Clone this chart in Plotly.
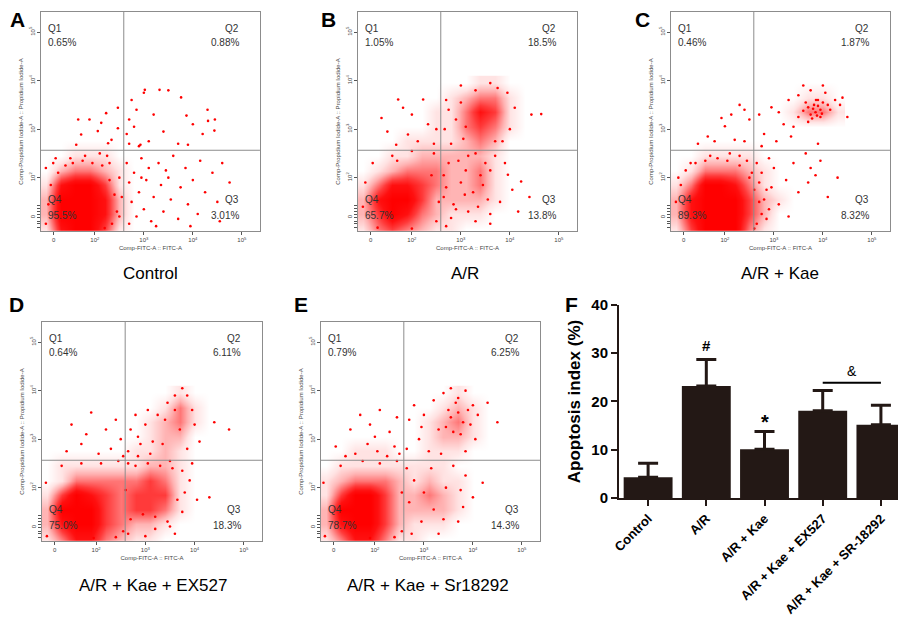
import plotly.graph_objects as go

# ---- flow cytometry panels (positions in display decades: 2 = 10^2, 3 = 10^3 ...) ----
quad_x = 2.59
quad_y = 2.565

# cell centres of the event-density grid (same for every panel)
grid_x = [1.0, 1.3, 1.6, 1.9, 2.2, 2.5, 2.8, 3.1, 3.4, 3.7, 4.0, 4.3]
grid_y = [0.95, 1.25, 1.55, 1.85, 2.15, 2.45, 2.75, 3.05, 3.35, 3.65, 3.95]

# A: Control
A_quads = ["0.65%", "0.88%", "3.01%", "95.5%"]
A_density = [
    [1, 5, 6, 6, 4, 1, 0, 0, 0, 0, 0, 0],
    [2, 6, 6, 6, 5, 2, 0, 0, 0, 0, 0, 0],
    [2, 6, 6, 6, 5, 2, 0, 0, 0, 0, 0, 0],
    [1, 5, 6, 6, 4, 1, 0, 0, 0, 0, 0, 0],
    [0, 2, 3, 3, 2, 1, 0, 0, 0, 0, 0, 0],
    [0, 0, 1, 1, 1, 0, 0, 0, 0, 0, 0, 0],
    [0, 0, 0, 0, 0, 0, 0, 0, 0, 0, 0, 0],
    [0, 0, 0, 0, 0, 0, 0, 0, 0, 0, 0, 0],
    [0, 0, 0, 0, 0, 0, 0, 0, 0, 0, 0, 0],
    [0, 0, 0, 0, 0, 0, 0, 0, 0, 0, 0, 0],
    [0, 0, 0, 0, 0, 0, 0, 0, 0, 0, 0, 0],
]
A_dot_x = [2.65, 2.7, 2.75, 2.8, 2.85, 2.9, 2.95, 3.0, 3.05, 3.1, 3.15, 3.2, 3.3, 3.35, 3.4, 3.5,
           3.55, 3.6, 3.7, 3.75, 3.85, 3.9, 4.0, 4.1, 4.15, 4.25, 4.4, 4.5, 4.6, 4.75, 2.7, 3.25,
           3.95, 4.55, 2.95, 3.45,
           2.65, 2.7, 2.75, 2.8, 2.85, 3.0, 3.1, 3.2, 3.5, 3.7, 4.0, 4.2, 4.3, 4.45, 2.7, 3.4, 2.9,
           3.02, 3.32, 3.76, 3.87, 4.31, 4.44, 2.93, 3.9,
           1.66, 2.23, 2.47, 1.89, 1.72, 2.06, 2.34, 1.62, 2.47, 2.27, 2.13,
           1.5, 1.8, 2.1, 2.3, 2.5, 2.55, 2.5, 1.2, 1.0, 2.25,
           1.05, 1.1, 1.25, 1.4, 1.55, 1.75, 1.95, 2.15, 2.3, 2.4, 2.45, 2.35, 2.2, 1.0, 1.15]
A_dot_y = [2.3, 1.9, 1.5, 2.1, 1.2, 1.7, 2.4, 1.35, 1.95, 2.2, 1.1, 1.6, 2.3, 1.85, 1.3, 2.0,
           1.55, 2.45, 1.15, 1.8, 2.2, 1.45, 1.95, 1.25, 2.35, 1.7, 2.1, 1.5, 2.3, 1.9, 1.05, 1.0,
           1.0, 1.1, 2.0, 2.15,
           2.9, 3.2, 3.6, 3.05, 3.4, 3.75, 2.75, 3.3, 3.8, 2.7, 3.1, 2.9, 3.4, 3.2, 2.7, 2.95, 2.65,
           3.81, 3.81, 3.655, 3.28, 3.17, 2.97, 2.68, 2.68,
           3.2, 3.33, 3.44, 3.2, 2.89, 2.96, 2.78, 2.68, 3.02, 2.71, 3.13,
           2.4, 2.45, 2.5, 2.3, 2.0, 1.6, 1.2, 2.4, 2.2, 2.45,
           1.45, 1.85, 2.1, 2.25, 2.3, 2.35, 2.3, 2.25, 1.95, 1.65, 1.3, 1.05, 0.96, 1.05, 2.3]

# B: A/R
B_quads = ["1.05%", "18.5%", "13.8%", "65.7%"]
B_density = [
    [1, 3, 4, 3, 2, 1, 1, 0, 0, 0, 0, 0],
    [2, 4, 6, 5, 3, 2, 1, 1, 1, 0, 0, 0],
    [2, 5, 6, 6, 4, 2, 2, 2, 2, 1, 0, 0],
    [1, 3, 5, 5, 4, 3, 2, 2, 3, 1, 0, 0],
    [0, 1, 2, 3, 3, 3, 2, 2, 3, 1, 0, 0],
    [0, 0, 1, 1, 2, 2, 2, 2, 2, 1, 0, 0],
    [0, 0, 0, 1, 1, 1, 1, 2, 3, 2, 0, 0],
    [0, 0, 0, 0, 0, 1, 1, 3, 4, 3, 1, 0],
    [0, 0, 0, 0, 0, 1, 1, 3, 5, 4, 1, 0],
    [0, 0, 0, 0, 0, 0, 1, 2, 3, 3, 1, 0],
    [0, 0, 0, 0, 0, 0, 0, 0, 1, 1, 0, 0],
]
B_dot_x = [1.72, 2.23, 1.82, 1.38, 1.68, 2.12, 2.33, 1.92, 2.45, 2.0, 1.5, 2.5,
           2.67, 2.75, 2.8, 2.9, 3.0, 3.05, 3.1, 3.6, 3.75, 3.95, 4.1, 4.44, 4.64, 4.0, 3.85, 3.3,
           2.7, 3.0,
           4.17, 4.23, 3.96, 2.8, 3.08, 2.7, 3.3, 3.6, 3.8, 3.9, 4.05, 2.65, 2.95, 3.7, 3.35, 4.4,
           3.6, 3.15,
           1.0, 1.05, 1.2, 1.6, 2.0, 2.45, 2.5, 2.55, 2.0, 1.3, 2.4, 1.7,
           2.65, 2.75, 2.85, 3.0, 3.1, 3.25, 3.4, 3.5, 3.55, 3.45, 3.3, 3.15, 2.9, 2.7, 3.6, 3.7]
B_dot_y = [3.61, 3.61, 3.44, 3.23, 2.68, 2.75, 3.1, 2.89, 2.7, 3.3, 2.95, 3.0,
           3.0, 3.4, 2.7, 3.2, 3.55, 2.8, 3.05, 3.95, 3.85, 3.75, 3.44, 3.3, 3.31, 3.0, 2.75, 3.8,
           3.6, 3.9,
           1.3, 1.92, 2.06, 1.17, 1.65, 1.0, 1.1, 1.25, 1.5, 2.3, 1.75, 2.05, 2.35, 2.45, 1.4, 1.6,
           1.05, 1.3,
           1.4, 1.9, 2.3, 2.45, 2.55, 2.5, 1.1, 1.5, 0.95, 0.97, 2.05, 2.35,
           1.6, 2.3, 1.45, 1.9, 2.15, 1.7, 2.05, 2.3, 1.55, 1.85, 2.5, 2.45, 1.35, 1.8, 2.15, 2.75]

# C: A/R + Kae
C_quads = ["0.46%", "1.87%", "8.32%", "89.3%"]
C_density = [
    [1, 4, 6, 6, 6, 3, 1, 0, 0, 0, 0, 0],
    [2, 5, 6, 6, 6, 4, 2, 0, 0, 0, 0, 0],
    [2, 5, 6, 6, 6, 4, 2, 1, 0, 0, 0, 0],
    [1, 3, 6, 6, 5, 3, 1, 0, 0, 0, 0, 0],
    [0, 1, 3, 3, 3, 2, 1, 0, 0, 0, 0, 0],
    [0, 0, 1, 1, 1, 1, 0, 0, 0, 0, 0, 0],
    [0, 0, 0, 0, 0, 0, 0, 0, 0, 0, 0, 0],
    [0, 0, 0, 0, 0, 0, 0, 0, 0, 0, 0, 0],
    [0, 0, 0, 0, 0, 0, 0, 0, 1, 3, 3, 1],
    [0, 0, 0, 0, 0, 0, 0, 0, 0, 1, 1, 0],
    [0, 0, 0, 0, 0, 0, 0, 0, 0, 0, 0, 0],
]
C_dot_x = [1.93, 2.13, 2.4, 1.65, 1.79, 2.0, 2.2, 2.4, 2.5, 1.45, 2.3,
           2.7, 2.8, 2.95, 3.05, 3.2, 3.3, 3.35, 3.5, 3.5, 3.65, 3.7, 3.75, 3.9, 3.95, 4.05, 4.15,
           4.25, 4.35, 4.5, 4.4, 3.6, 4.0, 2.75, 3.1, 3.4, 3.9,
           3.8, 3.85, 3.9, 3.95, 3.75, 3.82, 3.88, 4.0, 3.7, 3.78, 4.1, 3.6, 3.98, 3.86,
           2.65, 2.7, 2.75, 2.8, 2.9, 2.95, 3.0, 3.1, 3.25, 3.4, 3.65, 3.75, 3.85, 3.95, 3.7, 3.5,
           4.1, 3.3, 2.85, 4.3,
           1.0, 1.05, 1.3, 1.7, 2.1, 2.45, 2.55, 2.85, 2.9, 2.6, 2.3,
           1.1, 1.2, 1.4, 1.6, 1.85, 2.05, 2.3, 2.5, 2.6, 2.7, 2.75, 2.65]
C_dot_y = [3.23, 3.3, 3.4, 2.85, 2.75, 3.06, 2.78, 2.75, 3.2, 2.7, 3.5,
           3.3, 2.9, 3.45, 2.75, 3.1, 3.6, 2.85, 3.25, 3.7, 3.55, 3.15, 3.8, 3.6, 3.25, 3.75, 3.4,
           3.6, 3.5, 3.25, 3.65, 3.9, 3.9, 2.65, 3.35, 3.05, 2.7,
           3.42, 3.35, 3.48, 3.4, 3.3, 3.5, 3.28, 3.55, 3.45, 3.22, 3.5, 3.38, 3.32, 3.6,
           2.3, 1.9, 2.1, 1.55, 2.4, 1.8, 2.2, 1.45, 1.95, 2.3, 2.5, 2.2, 2.05, 2.35, 1.9, 1.7,
           1.6, 1.2, 1.15, 2.0,
           1.5, 2.0, 2.3, 2.45, 2.5, 2.35, 2.1, 1.75, 1.35, 0.95, 2.45,
           1.85, 2.15, 2.3, 2.35, 2.4, 2.35, 2.25, 2.0, 1.75, 1.5, 1.25, 1.05]

# D: A/R + Kae + EX527
D_quads = ["0.64%", "6.11%", "18.3%", "75.0%"]
D_density = [
    [1, 3, 5, 5, 3, 2, 1, 1, 0, 0, 0, 0],
    [2, 5, 6, 6, 4, 3, 2, 2, 1, 0, 0, 0],
    [2, 6, 6, 6, 4, 3, 4, 4, 3, 1, 0, 0],
    [1, 4, 6, 5, 4, 3, 4, 4, 4, 1, 0, 0],
    [0, 1, 3, 3, 3, 3, 3, 4, 3, 1, 0, 0],
    [0, 1, 1, 1, 1, 1, 1, 2, 2, 1, 0, 0],
    [0, 0, 0, 0, 0, 0, 1, 1, 2, 1, 0, 0],
    [0, 0, 0, 0, 0, 0, 0, 1, 2, 2, 0, 0],
    [0, 0, 0, 0, 0, 0, 0, 1, 2, 3, 1, 0],
    [0, 0, 0, 0, 0, 0, 0, 0, 1, 3, 1, 0],
    [0, 0, 0, 0, 0, 0, 0, 0, 0, 1, 0, 0],
]
D_dot_x = [1.5, 1.9, 2.2, 2.4, 1.7, 2.05, 2.3, 1.4, 2.5, 1.8, 2.55,
           2.65, 2.7, 2.8, 2.9, 3.0, 3.05, 3.1, 3.25, 3.45, 3.6, 3.75, 3.85, 3.95, 4.0, 4.4, 4.7,
           4.1, 3.85, 3.35, 2.85,
           2.65, 3.0, 3.5, 3.75, 3.8, 3.75, 3.9, 4.05, 4.3, 3.6, 3.2, 2.65, 3.95,
           1.0, 0.98, 1.3, 1.7, 2.1, 2.45, 2.55, 2.4, 1.95,
           2.6, 2.7, 2.8, 2.95, 3.05, 3.2, 3.3, 3.45, 3.55, 3.65, 3.4, 3.15, 2.85, 3.6, 3.7, 3.5]
D_dot_y = [3.3, 3.55, 3.2, 3.4, 2.9, 2.7, 2.8, 2.75, 3.0, 3.1, 2.65,
           2.75, 3.2, 3.5, 2.9, 3.3, 3.6, 2.7, 3.5, 3.75, 3.9, 4.05, 3.9, 3.6, 3.3, 3.35, 3.2,
           2.95, 2.8, 2.9, 2.65,
           1.05, 1.0, 1.2, 1.5, 1.9, 2.35, 2.15, 1.75, 1.8, 1.05, 1.15, 2.5, 2.5,
           1.0, 2.1, 2.45, 2.5, 2.5, 2.55, 1.1, 0.98, 0.96,
           1.95, 1.35, 2.45, 1.45, 2.5, 1.4, 2.45, 1.3, 2.4, 1.75, 3.4, 2.95, 3.05, 3.6, 3.2, 2.55]

# E: A/R + Kae + Sr18292
E_quads = ["0.79%", "6.25%", "14.3%", "78.7%"]
E_density = [
    [1, 3, 5, 5, 3, 1, 1, 0, 0, 0, 0, 0],
    [2, 5, 6, 6, 4, 2, 1, 1, 1, 0, 0, 0],
    [2, 6, 6, 6, 4, 2, 2, 2, 2, 1, 0, 0],
    [1, 4, 6, 6, 4, 2, 2, 3, 2, 1, 0, 0],
    [1, 2, 3, 3, 3, 2, 1, 2, 1, 1, 0, 0],
    [0, 1, 1, 1, 1, 1, 1, 1, 1, 0, 0, 0],
    [0, 0, 1, 1, 1, 0, 0, 1, 1, 1, 0, 0],
    [0, 0, 0, 0, 0, 0, 0, 1, 2, 2, 1, 0],
    [0, 0, 0, 0, 0, 0, 0, 1, 2, 3, 1, 0],
    [0, 0, 0, 0, 0, 0, 0, 0, 1, 2, 1, 0],
    [0, 0, 0, 0, 0, 0, 0, 0, 0, 1, 0, 0],
]
E_dot_x = [1.2, 1.5, 1.7, 1.9, 2.1, 2.3, 2.45, 1.6, 1.85, 2.05, 2.25, 2.4, 2.5, 1.4, 2.0,
           2.65, 2.7, 2.8, 2.9, 3.0, 3.1, 3.2, 3.3, 3.4, 3.55, 3.7, 3.85, 4.0, 4.1, 4.3, 4.5,
           4.05, 3.85, 3.35, 2.95,
           2.65, 2.7, 2.8, 2.95, 3.0, 3.15, 3.2, 3.4, 3.45, 3.6, 3.7, 3.75, 3.85, 3.8, 4.0, 4.2,
           3.3, 2.75,
           0.98, 0.95, 1.3, 1.75, 2.1, 2.45, 2.55, 2.4, 1.9, 2.55,
           3.45, 3.55, 3.6, 3.7, 3.8, 3.9, 3.65, 3.5, 3.75, 3.95]
E_dot_y = [2.85, 3.2, 3.5, 3.3, 3.6, 3.15, 3.45, 2.7, 2.9, 2.75, 2.65, 2.85, 2.7, 2.65, 3.05,
           2.8, 3.4, 3.7, 3.0, 3.5, 2.75, 3.8, 3.2, 3.95, 4.05, 3.85, 4.0, 3.7, 3.5, 3.75, 3.35,
           3.0, 2.75, 2.7, 3.25,
           2.4, 1.7, 2.15, 1.3, 1.9, 2.4, 1.55, 1.35, 2.0, 2.45, 1.3, 1.95, 2.25, 1.6, 1.8, 2.1,
           1.05, 1.05,
           1.0, 2.1, 2.45, 2.55, 2.5, 2.55, 1.1, 0.98, 0.96, 1.9,
           3.25, 3.45, 3.15, 3.55, 3.35, 3.6, 3.75, 3.6, 3.1, 3.3]

panel_titles = ["Control", "A/R", "A/R + Kae", "A/R + Kae + EX527", "A/R + Kae + Sr18292"]
fl_tick_vals = [1.16, 2, 3, 4, 5]
pi_tick_vals = [1.18, 2, 3, 4, 5]
log_tick_text = ["0", "10<sup>2</sup>", "10<sup>3</sup>", "10<sup>4</sup>", "10<sup>5</sup>"]

# ---- F: bar chart ----
groups = ["Control", "A/R", "A/R + Kae", "A/R + Kae + EX527", "A/R + Kae + SR-18292"]
apoptosis = [4.3, 23.2, 10.1, 18.1, 15.2]
apoptosis_sd = [2.9, 5.5, 3.7, 4.2, 4.0]

RED = "#ff0000"
GRAY = "#8c8c8c"
FONT = "Liberation Sans, Arial, sans-serif"
density_scale = [[0, "#ffffff"], [1 / 6, "#ffe3e3"], [2 / 6, "#ffb4b4"],
                 [3 / 6, "#ff7676"], [4 / 6, "#ff3a3a"], [5 / 6, "#ff1010"], [1, "#ff0000"]]

# axis domains (paper fractions)
domains = [
    ([0.0364, 0.2781], [0.6397, 0.9935]),
    ([0.3863, 0.6280], [0.6397, 0.9935]),
    ([0.7318, 0.9735], [0.6397, 0.9935]),
    ([0.0375, 0.2804], [0.1389, 0.4927]),
    ([0.3455, 0.5872], [0.1389, 0.4927]),
]

panels = [
    (A_density, A_dot_x, A_dot_y, A_quads),
    (B_density, B_dot_x, B_dot_y, B_quads),
    (C_density, C_dot_x, C_dot_y, C_quads),
    (D_density, D_dot_x, D_dot_y, D_quads),
    (E_density, E_dot_x, E_dot_y, E_quads),
]

fig = go.Figure()
annotations = []
shapes = []
layout_axes = {}

for i, (dens, dx, dy, quads) in enumerate(panels):
    n = "" if i == 0 else str(i + 1)
    xa, ya = "x" + n, "y" + n
    fig.add_trace(go.Heatmap(x=grid_x, y=grid_y, z=dens, xaxis=xa, yaxis=ya, zmin=0, zmax=6,
                             colorscale=density_scale, zsmooth="best", showscale=False,
                             hoverinfo="skip"))
    fig.add_trace(go.Scatter(x=dx, y=dy, mode="markers", xaxis=xa, yaxis=ya,
                             marker=dict(size=2.6, color=RED, line=dict(width=0)),
                             hoverinfo="skip", showlegend=False))

    xd, yd = domains[i]
    layout_axes["xaxis" + n] = dict(
        domain=xd, anchor=ya, range=[0.9, 5.37], showgrid=False, zeroline=False,
        showline=True, mirror=True, linecolor=GRAY, linewidth=1, automargin=False,
        tickmode="array", tickvals=fl_tick_vals, ticktext=log_tick_text,
        ticks="outside", ticklen=3, tickcolor="#555", tickfont=dict(size=6, color="#444"),
        title=dict(text="Comp-FITC-A :: FITC-A", font=dict(size=6, color="#444"), standoff=3),
    )
    layout_axes["yaxis" + n] = dict(
        domain=yd, anchor=xa, range=[0.9, 5.415], showgrid=False, zeroline=False,
        showline=True, mirror=True, linecolor=GRAY, linewidth=1, automargin=False,
        tickmode="array", tickvals=pi_tick_vals, ticktext=log_tick_text, tickangle=-90,
        ticks="outside", ticklen=3, tickcolor="#555", tickfont=dict(size=6, color="#444"),
        minor=dict(tickmode="array", tickvals=[0.98, 1.05, 1.1, 1.25, 1.3, 1.36, 1.42],
                   ticks="outside", ticklen=3, tickcolor="#555"),
        title=dict(text="Comp-Propidium Iodide-A :: Propidium Iodide-A",
                   font=dict(size=6, color="#444"), standoff=3),
    )

    shapes.append(dict(type="line", xref=xa, yref=ya + " domain", x0=quad_x, x1=quad_x,
                       y0=0, y1=1, line=dict(color=GRAY, width=1)))
    shapes.append(dict(type="line", xref=xa + " domain", yref=ya, x0=0, x1=1,
                       y0=quad_y, y1=quad_y, line=dict(color=GRAY, width=1)))

    qfont = dict(size=10, color="#333", family=FONT)
    for txt, qx, qy, anc in [("Q1", 0.023, 0.925, "left"), (quads[0], 0.023, 0.863, "left"),
                             ("Q2", 0.915, 0.925, "right"), (quads[1], 0.915, 0.863, "right"),
                             ("Q3", 0.915, 0.142, "right"), (quads[2], 0.915, 0.073, "right"),
                             ("Q4", 0.023, 0.142, "left"), (quads[3], 0.023, 0.073, "left")]:
        annotations.append(dict(text=txt, x=qx, y=qy, xref=xa + " domain", yref=ya + " domain",
                                xanchor=anc, yanchor="middle", showarrow=False, font=qfont))

# bar chart
fig.add_trace(go.Bar(
    x=groups, y=apoptosis, xaxis="x6", yaxis="y6", showlegend=False,
    marker=dict(color="#231815", line=dict(width=0)),
    error_y=dict(type="data", array=apoptosis_sd, arrayminus=[0] * len(apoptosis_sd),
                 symmetric=False, color="#231815", thickness=3, width=10),
))
layout_axes["xaxis6"] = dict(
    domain=[0.6744, 0.9956], anchor="y6", showgrid=False, zeroline=False, automargin=False,
    showline=True, linecolor="#231815", linewidth=2, ticks="outside", ticklen=6, tickwidth=2,
    tickcolor="#231815", tickangle=-45,
    tickfont=dict(size=13, color="black", family=FONT, weight="bold"),
)
layout_axes["yaxis6"] = dict(
    domain=[0.2084, 0.5202], anchor="x6", range=[0, 40], tickvals=[0, 10, 20, 30, 40],
    showgrid=False, zeroline=False, showline=True, linecolor="#231815", linewidth=2,
    ticks="outside", ticklen=6, tickwidth=2, tickcolor="#231815", automargin=False,
    tickfont=dict(size=15, color="black", family=FONT, weight="bold"),
    title=dict(text="Apoptosis index (%)", standoff=6,
               font=dict(size=17, color="black", family=FONT, weight="bold")),
)

bar_font = dict(size=15, color="black", family=FONT, weight="bold")
annotations.append(dict(text="#", x=1, y=31.6, xref="x6", yref="y6", showarrow=False, font=bar_font))
annotations.append(dict(text="*", x=2, y=15.8, xref="x6", yref="y6", showarrow=False,
                        font=dict(size=20, color="black", family=FONT, weight="bold")))
annotations.append(dict(text="&", x=3.5, y=26.4, xref="x6", yref="y6", showarrow=False,
                        font=dict(size=14, color="black", family=FONT)))
shapes.append(dict(type="line", xref="x6", yref="y6", x0=3, x1=4, y0=23.9, y1=23.9,
                   line=dict(color="black", width=2)))

# panel titles and letters
title_pos = [(142, 265), (457, 265), (772, 265), (145, 577), (420, 577)]
for txt, (px, py) in zip(panel_titles, title_pos):
    annotations.append(dict(text=txt, x=px / 906, y=1 - py / 619, xref="paper", yref="paper",
                            showarrow=False, xanchor="center", yanchor="middle",
                            font=dict(size=17, color="black", family=FONT)))

letters = ["A", "B", "C", "D", "E", "F"]
letter_pos = [(9, 12), (320, 12), (634, 12), (8, 296), (293, 296), (563, 296)]
for txt, (px, py) in zip(letters, letter_pos):
    annotations.append(dict(text=txt, x=px / 906, y=1 - py / 619, xref="paper", yref="paper",
                            showarrow=False, xanchor="center", yanchor="middle",
                            font=dict(size=21, color="black", family=FONT, weight="bold")))

fig.update_layout(
    width=906, height=619, margin=dict(l=0, r=0, t=0, b=0),
    paper_bgcolor="white", plot_bgcolor="white", bargap=0.16,
    font=dict(family=FONT), annotations=annotations, shapes=shapes,
    **layout_axes,
)

fig.write_html("out.html")
